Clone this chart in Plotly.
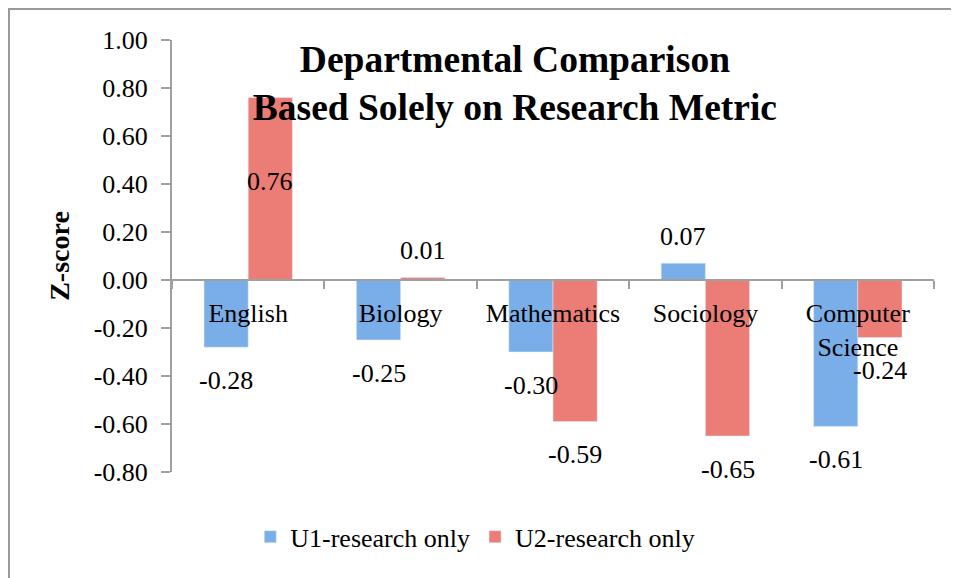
import plotly.graph_objects as go

# Data
DEPARTMENTS = ["English", "Biology", "Mathematics", "Sociology", "Computer<br>Science"]
U1_RESEARCH = [-0.28, -0.25, -0.30, 0.07, -0.61]
U2_RESEARCH = [0.76, 0.01, -0.59, -0.65, -0.24]
Y_TICK_VALUES = [-0.8, -0.6, -0.4, -0.2, 0.0, 0.2, 0.4, 0.6, 0.8, 1.0]
Y_TICK_LABELS = ["-0.80", "-0.60", "-0.40", "-0.20", "0.00", "0.20", "0.40", "0.60", "0.80", "1.00"]

BLUE = "#7aaee9"
RED = "#ec7d76"
AXIS_GRAY = "#a0a0a0"
FRAME_GRAY = "#999999"
FONT = "Liberation Serif"
Y_MIN, Y_MAX = -0.8, 1.0
BARGAP = 0.42

# page is rendered with the browser's 8px body margin, margins account for it
MARGIN = dict(l=164, r=33, t=32, b=114)
PLOT_W = 959 - MARGIN["l"] - MARGIN["r"]
PLOT_H = 578 - MARGIN["t"] - MARGIN["b"]

fig = go.Figure()
fig.add_trace(go.Bar(x=DEPARTMENTS, y=U1_RESEARCH, name="U1-research only", marker_color=BLUE))
fig.add_trace(go.Bar(x=DEPARTMENTS, y=U2_RESEARCH, name="U2-research only", marker_color=RED))

# value labels (Excel style: below negative bars, above small positives, inside tall bars)
half = (1 - BARGAP) / 4
annotations = []
for series, shift in ((U1_RESEARCH, -half), (U2_RESEARCH, half)):
    for i, v in enumerate(series):
        if v > 0.3:
            y, ys = v / 2, 7
        elif v >= 0:
            y, ys = v, 27
        else:
            y, ys = v, -33
        annotations.append(dict(
            x=i + shift, y=y, yshift=ys, text=f"{v:.2f}", showarrow=False,
            font=dict(family=FONT, size=26, color="black"),
        ))

fig.update_layout(
    width=959,
    height=578,
    margin=MARGIN,
    paper_bgcolor="white",
    plot_bgcolor="white",
    font=dict(family=FONT, size=26, color="black"),
    barmode="group",
    bargap=BARGAP,
    bargroupgap=0,
    title=dict(
        text="<b>Departmental Comparison<br>Based Solely on Research Metric</b>",
        font=dict(family=FONT, size=37.5, color="black"),
        x=0.45, xref="paper", xanchor="center",
        y=0.89, yanchor="middle",
    ),
    xaxis=dict(
        type="category",
        anchor="free",
        position=(0 - Y_MIN) / (Y_MAX - Y_MIN),
        showline=True, linecolor=AXIS_GRAY, linewidth=2,
        ticks="outside", tickson="boundaries", ticklen=8, tickcolor=AXIS_GRAY, tickwidth=2,
        ticklabelstandoff=10,
        showgrid=False, zeroline=False,
        tickfont=dict(family=FONT, size=26, color="black"),
    ),
    yaxis=dict(
        range=[Y_MIN, Y_MAX],
        tickvals=Y_TICK_VALUES, ticktext=Y_TICK_LABELS,
        showline=True, linecolor=AXIS_GRAY, linewidth=2,
        ticks="outside", ticklen=9, tickcolor=AXIS_GRAY, tickwidth=2,
        ticklabelstandoff=8,
        showgrid=False, zeroline=False,
        tickfont=dict(family=FONT, size=26, color="black"),
        title=dict(text="<b>Z-score</b>", font=dict(family=FONT, size=28), standoff=16),
    ),
    legend=dict(
        orientation="h",
        x=0.398, xanchor="center",
        y=-0.15, yanchor="middle",
        font=dict(family=FONT, size=26),
        itemwidth=30,
    ),
    annotations=annotations,
    shapes=[dict(
        type="rect", xref="paper", yref="paper",
        x0=-(MARGIN["l"] - 1) / PLOT_W, x1=1.2,
        y0=-0.6, y1=1 + (MARGIN["t"] - 1) / PLOT_H,
        line=dict(color=FRAME_GRAY, width=2), layer="below",
    )],
)

fig.write_html("out.html")
